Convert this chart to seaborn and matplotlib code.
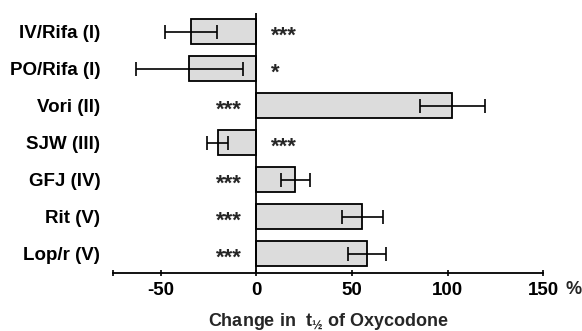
import matplotlib
matplotlib.use("Agg")
import matplotlib.pyplot as plt
import seaborn as sns
import pandas as pd

# values (% change in half-life)
labels = ["IV/Rifa (I)", "PO/Rifa (I)", "Vori (II)", "SJW (III)", "GFJ (IV)", "Rit (V)", "Lop/r (V)"]
change = [-34, -35, 102.5, -20, 20.5, 55.5, 58]
err = [13.5, 28, 17, 5.5, 7.5, 10.8, 10]
stars = ["***", "*", "***", "***", "***", "***", "***"]

sns.set_style("white")
plt.rcParams["font.family"] = ["Liberation Sans", "DejaVu Sans"]
plt.rcParams["font.weight"] = "bold"
plt.rcParams["axes.labelweight"] = "bold"
plt.rcParams["mathtext.fontset"] = "custom"
plt.rcParams["mathtext.rm"] = "Liberation Sans:bold"
plt.rcParams["mathtext.it"] = "Liberation Sans:bold"
plt.rcParams["mathtext.bf"] = "Liberation Sans:bold"

df = pd.DataFrame({"label": labels, "change": change, "err": err})

fig = plt.figure(figsize=(5.82, 3.31), dpi=100)
ax = fig.add_axes([0.1936, 0.176, 0.74, 0.784])

sns.barplot(data=df, x="change", y="label", orient="h", color="#dcdcdc",
            edgecolor="black", linewidth=1.3, width=0.67, saturation=1,
            errorbar=None, ax=ax)
ax.errorbar(df["change"], range(len(df)), xerr=df["err"], fmt="none",
            ecolor="black", elinewidth=1.2, capsize=5, capthick=1.2)

# significance stars on the opposite side of zero
for i, (v, s) in enumerate(zip(change, stars)):
    if v < 0:
        ax.text(7.5, i + 0.13, s, ha="left", va="center", fontsize=16)
    else:
        ax.text(-7.5, i + 0.13, s, ha="right", va="center", fontsize=16)

ax.axvline(0, color="black", lw=1.3, zorder=5)
ax.set_xlim(-75, 150)
ax.set_ylim(6.52, -0.5)
ax.set_xticks([-75, -50, 0, 50, 100, 150])
ax.set_xticklabels(["", "-50", "0", "50", "100", "150"])
ax.tick_params(axis="x", bottom=True, direction="inout", length=5, width=1.2,
               labelsize=13.5, pad=4, colors="black")
ax.tick_params(axis="y", left=False, length=0, labelsize=13.5, pad=9,
               colors="black")
for sp in ["top", "right", "left"]:
    ax.spines[sp].set_visible(False)
ax.spines["bottom"].set_linewidth(1.3)
ax.spines["bottom"].set_color("black")

ax.set_ylabel("")
ax.set_xlabel(r"Change in  t$_{½}$ of Oxycodone", fontsize=13, fontweight="bold",
              labelpad=9)
fig.text(565 / 582, 1 - 290 / 331, "%", ha="left", va="center", fontsize=13)

fig.savefig("out.png", dpi=100)
